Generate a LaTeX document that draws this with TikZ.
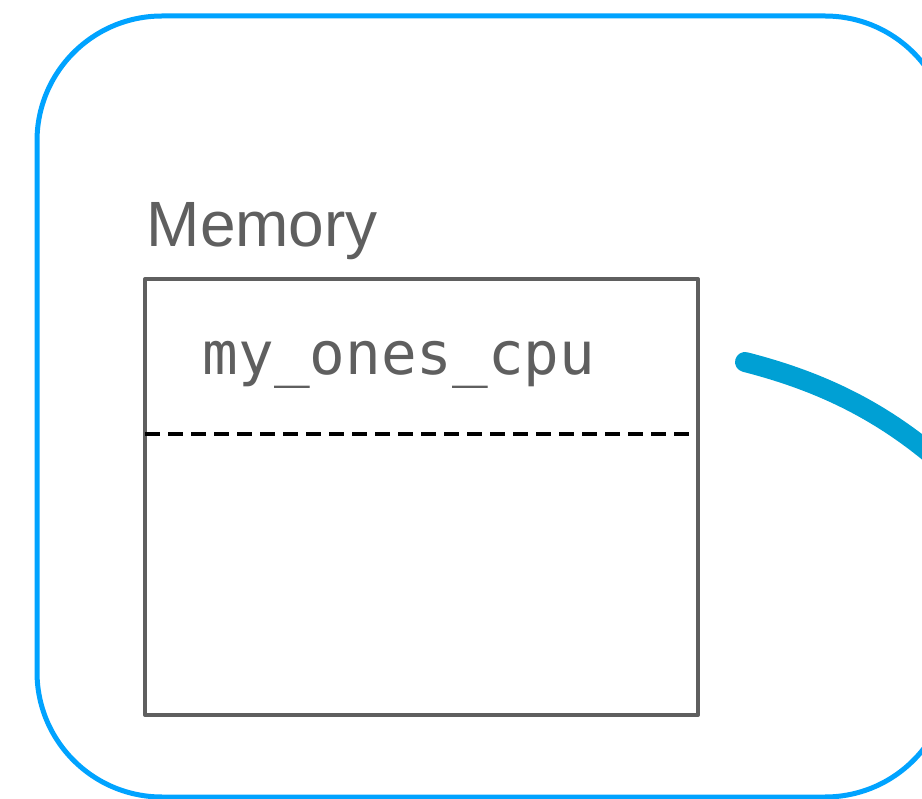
\documentclass[tikz,border=0pt]{standalone}
\usepackage{fontspec}
\setmainfont{Liberation Sans}
\newfontfamily\codefont{DejaVu Sans Mono}
\definecolor{frameblue}{RGB}{0,163,255}
\definecolor{wireblue}{RGB}{0,160,212}
\definecolor{boxgray}{RGB}{95,95,95}
\tikzset{
  frame/.style={draw=frameblue, line width=5pt, rounded corners=125pt},
  membox/.style={draw=boxgray, line width=4pt, line join=round, outer sep=0pt},
  sep/.style={draw=black, line width=4.5pt, dash pattern=on 15pt off 8pt},
  wire/.style={draw=wireblue, line width=20pt, line cap=round},
  lbl/.style={text=boxgray, inner sep=0pt, anchor=base west},
}
\begin{document}
\begin{tikzpicture}[x=1pt,y=-1pt]
\useasboundingbox (0,0) rectangle (922,799);
\fill[white] (0,0) rectangle (922,799);
\begin{scope}
\clip (0,0) rectangle (922,799);
\draw[frame] (37,16) rectangle (950,797);
\coordinate (wstart) at (745,362);
\coordinate (wend) at (945,466);
\draw[wire] (wstart) .. controls (815,380) and (880,408) .. (wend);
\end{scope}
\node[membox, minimum width=553pt, minimum height=436pt, anchor=north west, inner sep=0pt] (mem) at (145,279) {};
\coordinate (sepL) at (145,434);
\coordinate (sepR) at (696,434);
\draw[sep] (sepL) -- (sepR);
\node[lbl, font=\fontsize{64}{70}\selectfont] (title) at (146.5,247) {Memory};
\node[lbl, font=\codefont\fontsize{59.3}{66}\selectfont] (var) at (202.5,374.5) {my\_ones\_cpu};
\end{tikzpicture}
\end{document}
